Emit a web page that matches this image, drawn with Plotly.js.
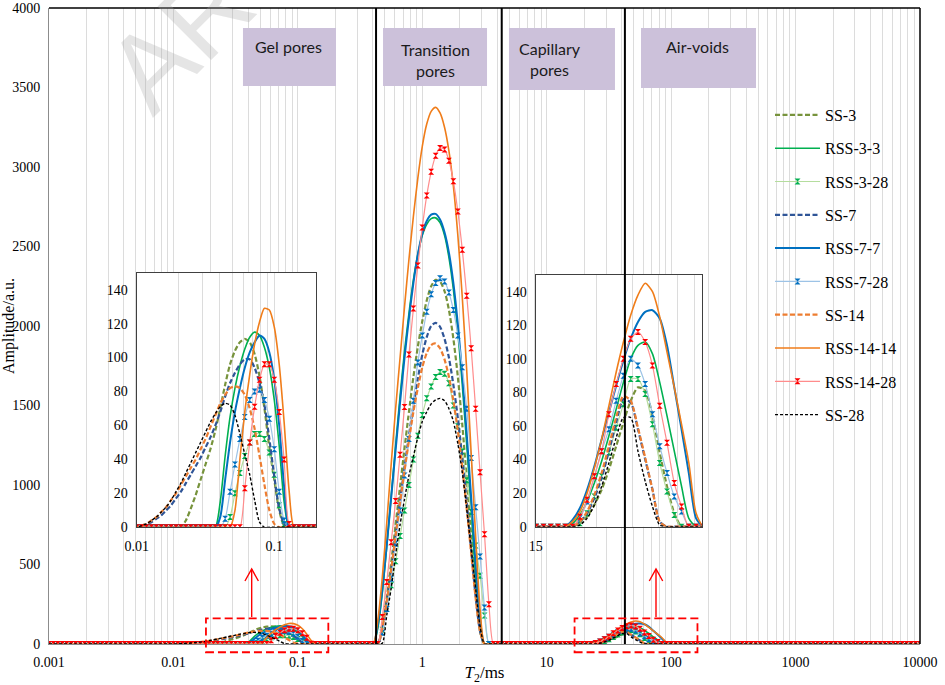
<!DOCTYPE html>
<html>
<head>
<meta charset="utf-8">
<script src="https://cdn.plot.ly/plotly-3.0.1.min.js"></script>
<style>
  html, body { margin: 0; padding: 0; background: #fff; }
  #plotlyFig { width: 945px; height: 685px; }
</style>
</head>
<body>
<div id="plotlyFig"></div>
<script>
// T2 grid of the inversion (ms), 28 points per decade
const t2 = [
    1e-3,1.086e-3,1.179e-3,1.28e-3,1.389e-3,1.509e-3,1.638e-3,1.778e-3,1.931e-3,2.096e-3,2.276e-3,2.471e-3,2.683e-3,2.913e-3,3.162e-3,3.433e-3,3.728e-3,4.047e-3,4.394e-3,4.771e-3,5.179e-3,5.623e-3,6.105e-3,6.629e-3,7.197e-3,7.814e-3,8.483e-3,9.211e-3,
    1e-2,1.086e-2,1.179e-2,1.28e-2,1.389e-2,1.509e-2,1.638e-2,1.778e-2,1.931e-2,2.096e-2,2.276e-2,2.471e-2,2.683e-2,2.913e-2,3.162e-2,3.433e-2,3.728e-2,4.047e-2,4.394e-2,4.771e-2,5.179e-2,5.623e-2,6.105e-2,6.629e-2,7.197e-2,7.814e-2,8.483e-2,9.211e-2,
    1e-1,1.086e-1,1.179e-1,1.28e-1,1.389e-1,1.509e-1,1.638e-1,1.778e-1,1.931e-1,2.096e-1,2.276e-1,2.471e-1,2.683e-1,2.913e-1,3.162e-1,3.433e-1,3.728e-1,4.047e-1,4.394e-1,4.771e-1,5.179e-1,5.623e-1,6.105e-1,6.629e-1,7.197e-1,7.814e-1,8.483e-1,9.211e-1,
    1,1.086,1.179,1.28,1.389,1.509,1.638,1.778,1.931,2.096,2.276,2.471,2.683,2.913,3.162,3.433,3.728,4.047,4.394,4.771,5.179,5.623,6.105,6.629,7.197,7.814,8.483,9.211,
    1e1,1.086e1,1.179e1,1.28e1,1.389e1,1.509e1,1.638e1,1.778e1,1.931e1,2.096e1,2.276e1,2.471e1,2.683e1,2.913e1,3.162e1,3.433e1,3.728e1,4.047e1,4.394e1,4.771e1,5.179e1,5.623e1,6.105e1,6.629e1,7.197e1,7.814e1,8.483e1,9.211e1,
    1e2,1.086e2,1.179e2,1.28e2,1.389e2,1.509e2,1.638e2,1.778e2,1.931e2,2.096e2,2.276e2,2.471e2,2.683e2,2.913e2,3.162e2,3.433e2,3.728e2,4.047e2,4.394e2,4.771e2,5.179e2,5.623e2,6.105e2,6.629e2,7.197e2,7.814e2,8.483e2,9.211e2,
    1e3,1.086e3,1.179e3,1.28e3,1.389e3,1.509e3,1.638e3,1.778e3,1.931e3,2.096e3,2.276e3,2.471e3,2.683e3,2.913e3,3.162e3,3.433e3,3.728e3,4.047e3,4.394e3,4.771e3,5.179e3,5.623e3,6.105e3,6.629e3,7.197e3,7.814e3,8.483e3,9.211e3,
    1e4
];

// grid index where each block of amplitudes starts (everything else is 0)
const gelStart = 28;
const transStart = 73;
const airStart = 120;

// gel pores block
const ss3Gel     = [0,0,0,0,0,0,0,0,0,0,4,11,19,28,37,46,57,70,84,96,104,109,111,109,102,89,70,47,28,10,1,0,0,0];
const rss33Gel   = [0,0,0,0,0,0,0,0,0,0,0,0,0,0,0,0,0,15,42,65,82,95,105,112,115,113,106,94,75,48,15,0,0,0];
const rss328Gel  = [0,0,0,0,0,0,0,0,0,0,0,0,0,0,0,0,0,0,0,6,20,32,42,50,55,55,52,44,31,13,2,0,0,0];
const ss7Gel     = [0,1,2,3,5,7,10,13,17,21,26,31,36,41,47,53,60,68,77,85,91,96,99,99,94,85,72,52,30,11,2,0,0,0];
const rss77Gel   = [0,0,0,0,0,0,0,0,0,0,0,0,0,0,0,0,0,6,28,50,68,82,94,103,109,113,111,103,87,60,24,0,0,0];
const rss728Gel  = [0,0,0,0,0,0,0,0,0,0,0,0,0,0,0,0,0,0,5,21,37,52,65,75,80,81,75,64,46,21,4,0,0,0];
const ss14Gel    = [0,1,2,4,6,9,12,16,20,25,30,35,40,46,52,59,66,73,78,82,83,82,78,70,58,42,25,10,2,0,0,0,0,0];
const rss1414Gel = [0,0,0,0,0,0,0,0,0,0,0,0,0,0,0,0,0,0,0,0,10,40,68,90,108,121,129,128,118,96,62,22,0,0];
const rss1428Gel = [0,0,0,0,0,0,0,0,0,0,0,0,0,0,0,0,0,0,0,0,0,0,23,50,71,87,96,96,87,68,40,2,0,0];
const ss28Gel    = [0,1,2,4,6,9,12,16,21,26,32,38,44,50,56,62,67,71,73,72,66,55,43,31,16,3,0,0,0,0,0,0,0,0];

// transition pores block
const ss3Tr     = [0,0,100,290,510,750,990,1230,1460,1680,1870,2030,2160,2250,2290,2280,2220,2100,1920,1680,1380,1040,680,340,80,0,0,0];
const rss33Tr   = [0,100,320,610,930,1250,1560,1840,2080,2290,2450,2570,2640,2675,2680,2650,2570,2430,2230,1960,1630,1250,840,420,100,0,0,0];
const rss328Tr  = [0,0,90,220,370,520,680,840,1000,1160,1310,1440,1545,1620,1680,1710,1700,1640,1500,1370,1210,1030,830,620,430,180,0,0];
const ss7Tr     = [0,0,90,260,460,680,900,1110,1310,1500,1670,1820,1930,2000,2020,1995,1920,1800,1630,1420,1170,890,590,300,80,0,0,0];
const rss77Tr   = [0,120,340,620,920,1220,1520,1800,2050,2270,2450,2580,2660,2700,2705,2670,2590,2460,2270,2010,1690,1320,920,500,150,0,0,0];
const rss728Tr  = [0,0,70,220,410,630,840,1060,1290,1530,1770,1940,2090,2200,2270,2300,2280,2210,2100,1940,1740,1480,1170,860,550,230,0,0];
const ss14Tr    = [0,0,100,270,470,680,890,1090,1280,1460,1610,1740,1830,1880,1890,1860,1790,1680,1530,1340,1110,850,570,290,80,0,0,0];
const rss1414Tr = [0,150,420,760,1130,1480,1800,2120,2420,2690,2930,3130,3270,3350,3375,3340,3250,3100,2880,2570,2180,1720,1200,680,220,0,0,0];
const rss1428Tr = [0,0,170,390,640,900,1190,1490,1820,2110,2380,2620,2820,2970,3070,3120,3110,3040,2910,2720,2480,2190,1860,1480,1080,690,250,0];
const ss28Tr    = [0,0,5,180,350,560,750,910,1060,1180,1300,1400,1460,1510,1535,1545,1530,1480,1400,1260,1080,850,600,350,110,0,0,0];

// air-voids block
const ss3Air     = [0,0,0,2,6,13,22,34,48,62,75,83,81,66,44,24,8,0,0,0,0,0];
const rss33Air   = [0,0,2,7,15,26,39,54,70,86,100,108,110,103,86,66,45,24,5,0,0,0];
const rss328Air  = [0,0,0,2,8,18,30,44,59,73,88,88,79,61,38,21,7,0,0,0,0,0];
const ss7Air     = [0,0,0,3,8,17,29,45,62,76,74,58,40,22,3,0,0,0,0,0,0,0];
const rss77Air   = [0,0,4,11,22,36,52,68,84,99,112,122,128,129,124,108,83,58,32,5,0,0];
const rss728Air  = [0,0,0,5,15,30,45,58,75,90,100,96,85,67,48,32,18,9,0,0,0,0];
const ss14Air    = [0,0,0,3,9,19,32,48,65,78,75,59,41,22,3,0,0,0,0,0,0,0];
const rss1414Air = [0,0,3,9,20,35,52,72,92,110,126,138,145,140,125,104,83,61,38,8,0,0];
const rss1428Air = [0,0,0,6,16,30,45,67,85,100,112,116,110,96,72,50,26,12,0,0,0,0];
const ss28Air    = [0,0,0,1,5,13,24,38,53,65,65,45,27,12,1,0,0,0,0,0,0,0];

const seriesNames = ['SS-3', 'RSS-3-3', 'RSS-3-28', 'SS-7', 'RSS-7-7', 'RSS-7-28', 'SS-14', 'RSS-14-14', 'RSS-14-28', 'SS-28'];
const gelBlocks   = [ss3Gel, rss33Gel, rss328Gel, ss7Gel, rss77Gel, rss728Gel, ss14Gel, rss1414Gel, rss1428Gel, ss28Gel];
const transBlocks = [ss3Tr, rss33Tr, rss328Tr, ss7Tr, rss77Tr, rss728Tr, ss14Tr, rss1414Tr, rss1428Tr, ss28Tr];
const airBlocks   = [ss3Air, rss33Air, rss328Air, ss7Air, rss77Air, rss728Air, ss14Air, rss1414Air, rss1428Air, ss28Air];

// axes ticks
const mainTicks = [0.001, 0.01, 0.1, 1, 10, 100, 1000, 10000];
const mainTickText = ['0.001', '0.01', '0.1', '1', '10', '100', '1000', '10000'];
const mainGrid = [0.002,0.003,0.004,0.005,0.006,0.007,0.008,0.009,
    0.02,0.03,0.04,0.05,0.06,0.07,0.08,0.09, 0.2,0.3,0.4,0.5,0.6,0.7,0.8,0.9,
    2,3,4,5,6,7,8,9, 20,30,40,50,60,70,80,90, 200,300,400,500,600,700,800,900,
    2000,3000,4000,5000,6000,7000,8000,9000];
const ampTicks = [0, 500, 1000, 1500, 2000, 2500, 3000, 3500, 4000];
const gelTicks = [0.01, 0.02, 0.03, 0.04, 0.05, 0.06, 0.07, 0.08, 0.09, 0.1, 0.2];
const gelTickText = ['0.01', '', '', '', '', '', '', '', '', '0.1', ''];
const airTicks = [15, 30, 45, 60, 75, 90];
const airTickText = ['15', '', '', '', '', ''];
const zoomTicks = [0, 20, 40, 60, 80, 100, 120, 140];
const boundaries = [0.425, 4.35, 42.5];

const styles = {
    'SS-3':      { line: { color: '#77933c', width: 2.2, dash: '5px,2.5px' } },
    'RSS-3-3':   { line: { color: '#00b050', width: 1.6 } },
    'RSS-3-28':  { line: { color: '#b5dd9e', width: 1.2 }, marker: '#00b050' },
    'SS-7':      { line: { color: '#2f5597', width: 2.2, dash: '5px,2.5px' } },
    'RSS-7-7':   { line: { color: '#0070c0', width: 2 } },
    'RSS-7-28':  { line: { color: '#9dc3e6', width: 1.2 }, marker: '#0070c0' },
    'SS-14':     { line: { color: '#ed7d31', width: 2.2, dash: '5px,2.5px' } },
    'RSS-14-14': { line: { color: '#f07d1a', width: 1.6 } },
    'RSS-14-28': { line: { color: '#ff8c8c', width: 1.2 }, marker: '#ff0000' },
    'SS-28':     { line: { color: '#000000', width: 1.4, dash: '3px,2px' } },
};

const serif = 'Liberation Serif, Times New Roman, serif';

function buildSeries(i) {
    const y = t2.map(() => 0);
    gelBlocks[i].forEach((v, j) => { y[gelStart + j] = v; });
    transBlocks[i].forEach((v, j) => { y[transStart + j] = v; });
    airBlocks[i].forEach((v, j) => { y[airStart + j] = v; });
    return y;
}

function makeTrace(name, y, xa, ya, legend) {
    const st = styles[name];
    const tr = {
        x: t2,
        y: y,
        name: name,
        type: 'scatter',
        mode: st.marker ? 'lines+markers' : 'lines',
        line: Object.assign({ shape: 'spline', smoothing: 0.7 }, st.line),
        xaxis: xa,
        yaxis: ya,
        legendgroup: name,
        showlegend: legend,
        hoverinfo: 'skip',
    };
    if (st.marker) {
        tr.marker = { symbol: 'hourglass', size: 6, color: st.marker };
    }
    return tr;
}

const traces = [];
seriesNames.forEach((name, i) => {
    const y = buildSeries(i);
    traces.push(makeTrace(name, y, 'x', 'y', true));
    traces.push(makeTrace(name, y, 'x2', 'y2', false));
    traces.push(makeTrace(name, y, 'x3', 'y3', false));
});

const insetFrame = {
    showline: true,
    mirror: true,
    linecolor: '#404040',
    linewidth: 1.2,
    zeroline: false,
    ticks: '',
    tickfont: { family: serif, size: 14, color: '#000' },
};

const labelBox = (x0, x1, y0) => ({
    type: 'rect', xref: 'paper', yref: 'paper', x0: x0, x1: x1, y0: y0, y1: 0.9686,
    fillcolor: '#ccc1da', line: { width: 0 }, layer: 'above',
});
const redBox = (x0, x1) => ({
    type: 'rect', xref: 'paper', yref: 'paper', x0: x0, x1: x1, y0: -0.013, y1: 0.0404,
    fillcolor: 'rgba(0,0,0,0)', line: { color: '#ff0000', width: 1.8, dash: '8px,4px' }, layer: 'above',
});
// red arrow pointing up from a dashed box to its inset: shaft plus open head
const arrowShapes = (x, half) => [
    { type: 'line', xref: 'paper', yref: 'paper', x0: x, x1: x, y0: 0.0425, y1: 0.1179,
      line: { color: '#ff0000', width: 1.4 }, layer: 'above' },
    { type: 'path', xref: 'paper', yref: 'paper',
      path: 'M' + (x - half) + ',0.0991 L' + x + ',0.1179 L' + (x + half) + ',0.0991',
      line: { color: '#ff0000', width: 1.4 }, layer: 'above' },
];
const boxText = (x, y, text) => ({
    xref: 'paper', yref: 'paper', x: x, y: y, xanchor: 'center', yanchor: 'middle',
    text: text, showarrow: false, align: 'center',
    font: { family: 'Lato, Carlito, sans-serif', size: 16, color: '#1a1a1a' },
});

const layout = {
    width: 945,
    height: 685,
    margin: { l: 49, r: 25, t: 8, b: 41 },
    paper_bgcolor: '#ffffff',
    plot_bgcolor: '#ffffff',
    font: { family: serif, color: '#000' },
    showlegend: true,
    legend: {
        x: 0.8278, y: 0.8585, xanchor: 'left', yanchor: 'top',
        bgcolor: 'rgba(0,0,0,0)',
        font: { family: serif, size: 16, color: '#000' },
        tracegroupgap: 9.5,
        itemwidth: 45,
    },
    xaxis: {
        type: 'log',
        range: [-3, 4],
        domain: [0, 1],
        anchor: 'y',
        tickmode: 'array',
        tickvals: mainTicks,
        ticktext: mainTickText,
        showgrid: true,
        gridcolor: '#dcdcdc',
        minor: { tickmode: 'array', tickvals: mainGrid, showgrid: true, gridcolor: '#dcdcdc', ticks: '' },
        showline: true,
        linecolor: '#8c8c8c',
        zeroline: false,
        ticks: '',
        ticklabelstandoff: 5,
        tickfont: { family: serif, size: 14, color: '#000' },
        title: { text: '<i>T</i><sub>2</sub>/ms', font: { family: serif, size: 17, color: '#000' }, standoff: 0 },
    },
    yaxis: {
        range: [0, 4000],
        domain: [0, 1],
        anchor: 'x',
        tickmode: 'array',
        tickvals: ampTicks,
        showgrid: false,
        showline: true,
        linecolor: '#8c8c8c',
        zeroline: false,
        ticks: '',
        ticklabelstandoff: 5,
        tickfont: { family: serif, size: 14, color: '#000' },
        title: { text: 'Amplitude/a.u.', font: { family: serif, size: 16, color: '#000' } },
    },
    xaxis2: Object.assign({}, insetFrame, {
        type: 'log', range: [-2, -0.697], domain: [0.1007, 0.3065], anchor: 'y2',
        tickmode: 'array', tickvals: gelTicks, ticktext: gelTickText,
        showgrid: true, gridcolor: '#dcdcdc', ticklabelstandoff: 6,
    }),
    yaxis2: Object.assign({}, insetFrame, {
        range: [0, 150], domain: [0.1835, 0.5838], anchor: 'x2',
        tickmode: 'array', tickvals: zoomTicks, showgrid: false, ticklabelstandoff: 5,
    }),
    xaxis3: Object.assign({}, insetFrame, {
        type: 'log', range: [1.1761, 1.992], domain: [0.5588, 0.7494], anchor: 'y3',
        tickmode: 'array', tickvals: airTicks, ticktext: airTickText,
        showgrid: true, gridcolor: '#dcdcdc', ticklabelstandoff: 6,
    }),
    yaxis3: Object.assign({}, insetFrame, {
        range: [0, 150], domain: [0.1844, 0.5803], anchor: 'x3',
        tickmode: 'array', tickvals: zoomTicks, showgrid: false, ticklabelstandoff: 5,
    }),
    shapes: [
        // frame: top and right edges are black
        { type: 'line', xref: 'paper', yref: 'paper', x0: 0, x1: 1, y0: 1, y1: 1, line: { color: '#000', width: 1.3 }, layer: 'above' },
        { type: 'line', xref: 'paper', yref: 'paper', x0: 1, x1: 1, y0: 0, y1: 1, line: { color: '#000', width: 1.5 }, layer: 'above' },
        ...boundaries.map(b => ({
            type: 'line', xref: 'x', yref: 'paper', x0: b, x1: b, y0: 0, y1: 1,
            line: { color: '#000', width: 2 }, layer: 'above',
        })),
        labelBox(0.2227, 0.3295, 0.8774),
        labelBox(0.3835, 0.5029, 0.8774),
        labelBox(0.5281, 0.6498, 0.8710),
        labelBox(0.6797, 0.8117, 0.8742),
        redBox(0.1802, 0.3207),
        redBox(0.6034, 0.7445),
        ...arrowShapes(0.2327, 0.0077),
        ...arrowShapes(0.6969, 0.0077),
    ],
    annotations: [
        {
            xref: 'paper', yref: 'paper', x: 0.496, y: 1.429, xanchor: 'center', yanchor: 'middle',
            text: 'ARTICLE IN PRESS', showarrow: false, textangle: -45,
            font: { family: 'Liberation Sans, Arial, sans-serif', size: 110, color: 'rgba(170,170,170,0.3)' },
        },
        boxText(0.2755, 0.9387, 'Gel pores'),
        boxText(0.4432, 0.9182, 'Transition<br>pores'),
        boxText(0.5752, 0.9198, 'Capillary<br>pores'),
        boxText(0.7451, 0.9387, 'Air-voids'),
    ],
};

Plotly.newPlot(document.getElementById('plotlyFig'), traces, layout, { displayModeBar: false, staticPlot: true });
</script>
</body>
</html>
